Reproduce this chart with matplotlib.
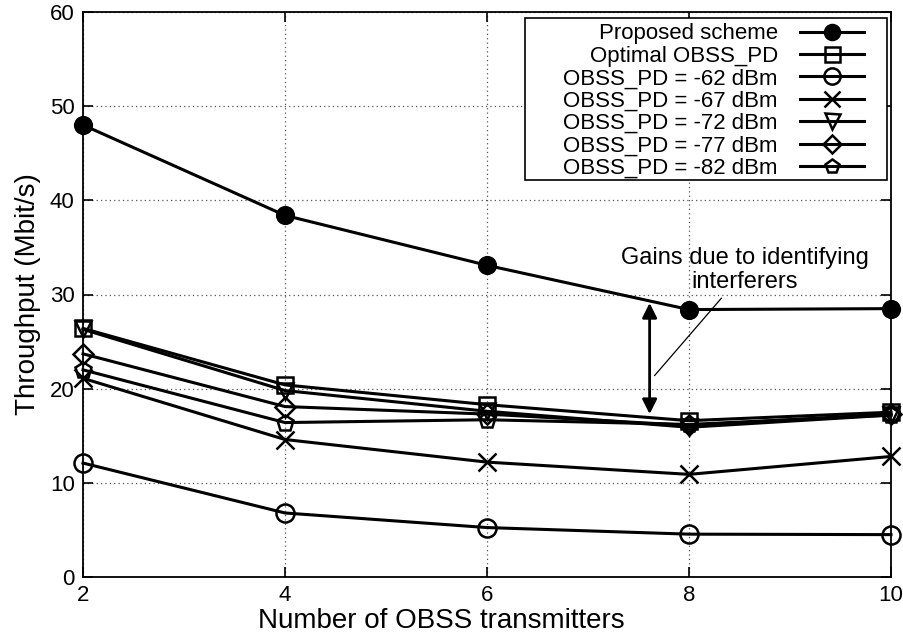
import matplotlib
matplotlib.use("Agg")
import matplotlib.pyplot as plt
from matplotlib.patches import Rectangle

plt.rcParams['font.family'] = ['Liberation Sans', 'DejaVu Sans']

# x positions: number of OBSS transmitters
n_tx = [2, 4, 6, 8, 10]

# throughput in Mbit/s
proposed = [48.0, 38.4, 33.1, 28.4, 28.5]
optimal = [26.4, 20.4, 18.3, 16.6, 17.5]
pd_62 = [12.1, 6.8, 5.25, 4.55, 4.5]
pd_67 = [21.1, 14.6, 12.2, 10.9, 12.8]
pd_72 = [26.3, 19.8, 17.6, 15.9, 17.2]
pd_77 = [23.7, 18.1, 17.3, 16.1, 17.3]
pd_82 = [22.0, 16.4, 16.7, 16.2, 17.2]

labels = ["Proposed scheme", "Optimal OBSS_PD",
          "OBSS_PD = -62 dBm", "OBSS_PD = -67 dBm", "OBSS_PD = -72 dBm",
          "OBSS_PD = -77 dBm", "OBSS_PD = -82 dBm"]
series = [proposed, optimal, pd_62, pd_67, pd_72, pd_77, pd_82]
markers = ['o', 's', 'o', 'x', 'v', 'D', 'p']
msizes = [12, 12, 13, 13, 12, 10, 12]

fig = plt.figure(figsize=(9.04, 6.38), dpi=100)
ax = fig.add_axes([83/904, 1 - 577/638, (891 - 83)/904, (577 - 12)/638])

for i in range(len(series)):
    face = 'black' if i == 0 else 'none'
    ax.plot(n_tx, series[i], color='black', lw=2.2, marker=markers[i],
            ms=msizes[i], mfc=face, mec='black', mew=1.8, label=labels[i],
            clip_on=False, zorder=3)

ax.set_xlim(2, 10)
ax.set_ylim(0, 60)
ax.set_xticks([2, 4, 6, 8, 10])
ax.set_yticks([0, 10, 20, 30, 40, 50, 60])
ax.tick_params(direction='in', length=7, width=1.2, labelsize=16,
               top=True, right=True, pad=6)
ax.grid(True, linestyle=(0, (1, 2.5)), color='#555555', lw=0.9)
for s in ax.spines.values():
    s.set_linewidth(1.3)

ax.set_xlabel("Number of OBSS transmitters", fontsize=20, labelpad=3)
ax.xaxis.set_label_coords(0.444, -0.055)
ax.set_ylabel("Throughput (Mbit/s)", fontsize=20, labelpad=6)

# gain arrow and its label
ax.annotate("", xy=(7.61, 17.3), xytext=(7.61, 29.1),
            arrowprops=dict(arrowstyle='<|-|>', color='black', lw=2,
                            mutation_scale=22, shrinkA=0, shrinkB=0))
ax.plot([8.32, 7.66], [29.6, 21.4], color='black', lw=0.9)
ax.text(8.55, 32.6, "Gains due to identifying\ninterferers", ha='center',
        va='center', fontsize=17, linespacing=1.15)

# legend box drawn separately (gnuplot style key, wider than its contents)
ax.add_patch(Rectangle((0.547, 0.703), 0.448, 0.286, transform=ax.transAxes,
                       facecolor='white', edgecolor='black', lw=1.2,
                       zorder=4, clip_on=False))
leg = ax.legend(loc='upper right', bbox_to_anchor=(0.966, 0.980),
                markerfirst=False, fontsize=16, handlelength=2.85,
                handletextpad=1.0, labelspacing=0.065, borderaxespad=0,
                borderpad=0, frameon=False, markerscale=0.9)
leg.set_zorder(5)

fig.savefig("out.png", dpi=100)
